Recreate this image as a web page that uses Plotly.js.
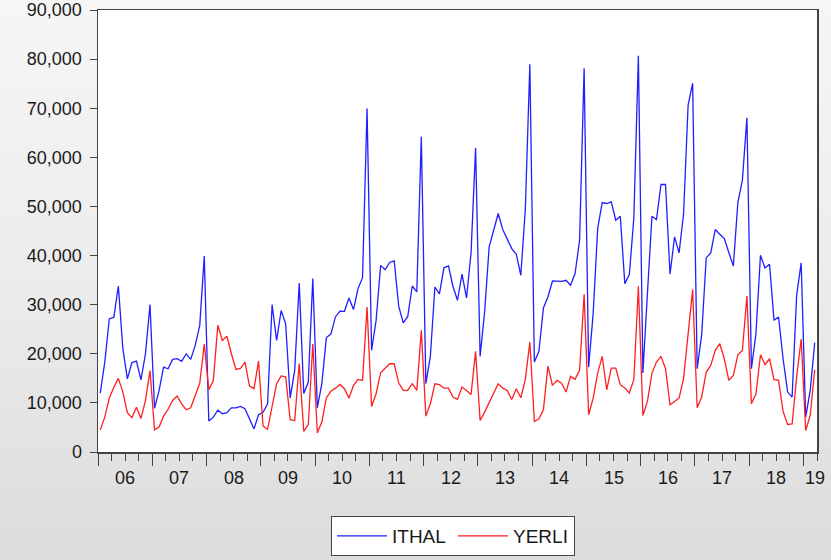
<!DOCTYPE html>
<html>
<head>
<meta charset="utf-8">
<script src="https://cdn.plot.ly/plotly-3.0.1.min.js"></script>
<style>
  html, body { margin: 0; padding: 0; }
  body { width: 831px; height: 560px; background: linear-gradient(to bottom, #f6f6f6 0%, #ececec 50%, #dcdcdc 100%); overflow: hidden; }
  #chart { width: 831px; height: 560px; }
</style>
</head>
<body>
<div id="chart"></div>
<script>
// Monthly observations, Jan 2006 .. Mar 2019
const startYear = 2006;
const endX = 2019.25; // end of March 2019

const ithal = [
  12000, 18300, 27150, 27400, 33800, 21000, 14900, 18200, 18500, 14700, 20000, 30000, // 2006
  8900, 12500, 17300, 16950, 18860, 19000, 18450, 20000, 18860, 21700, 25800, 39900,  // 2007
  6300, 7100, 8500, 7800, 8000, 9000, 9000, 9300, 8800, 6800, 4700, 7600,             // 2008
  8100, 9800, 30000, 22700, 28800, 26100, 11000, 16600, 34400, 11900, 14200, 35300,   // 2009
  9000, 13900, 23300, 24000, 27500, 28700, 28650, 31360, 29000, 33270, 35500, 69960,  // 2010
  20700, 26800, 38000, 37100, 38600, 38900, 29700, 26300, 27600, 33800, 32600, 64200, // 2011
  13900, 19500, 33600, 32200, 37500, 37900, 33700, 30900, 36200, 31360, 40600, 61950, // 2012
  19470, 28510, 41760, 45160, 48560, 45300, 43330, 41420, 40270, 35990, 49440, 78930, // 2013
  18320, 20490, 29320, 31570, 34830, 34830, 34760, 34970, 33950, 36330, 43120, 78120, // 2014
  17290, 28170, 45500, 50800, 50600, 50940, 47200, 48010, 34290, 36120, 47680, 80700, // 2015
  16070, 32240, 48010, 47330, 54470, 54470, 36190, 43800, 40540, 48560, 70640, 75060, // 2016
  16950, 23890, 39520, 40540, 45300, 44350, 43460, 40610, 37890, 50800, 55350, 68060, // 2017
  16950, 24090, 40070, 37480, 38230, 26810, 27490, 18990, 12200, 11180, 31900, 38500, // 2018
  7100, 12540, 22250                                                                  // 2019
];

const yerli = [
  4500, 7100, 11000, 13200, 15000, 12200, 8000, 7000, 9100, 6800, 10500, 16600,       // 2006
  4500, 5100, 7300, 8700, 10500, 11400, 9800, 8600, 9000, 11500, 14000, 22000,        // 2007
  12700, 14500, 25800, 22700, 23600, 20000, 16800, 17000, 18300, 13400, 12900, 18500, // 2008
  5300, 4600, 9100, 13900, 15500, 15300, 6600, 6400, 18000, 4200, 5600, 22000,        // 2009
  3900, 6100, 11000, 12400, 13000, 13760, 12880, 10970, 13560, 14780, 14580, 29530,   // 2010
  9280, 11860, 16140, 17090, 17970, 17970, 14030, 12540, 12540, 13900, 12540, 24770,  // 2011
  7300, 9820, 13900, 13700, 13000, 13000, 11170, 10700, 13220, 12540, 11720, 20500,   // 2012
  6420, 8120, 9960, 11860, 13900, 13000, 12540, 10700, 12880, 11040, 14780, 22400,    // 2013
  6220, 6760, 8600, 17500, 13560, 14580, 14030, 12200, 15400, 14780, 16620, 32110,    // 2014
  7580, 10970, 16070, 19470, 12670, 17090, 17090, 13700, 13020, 12000, 14780, 33740,  // 2015
  7440, 10300, 16070, 18310, 19470, 16950, 9620, 10300, 10970, 15050, 24090, 33060,   // 2016
  9000, 11180, 16280, 17630, 20690, 22050, 18990, 14580, 15600, 19810, 20690, 31770,  // 2017
  9820, 11860, 19810, 17770, 18990, 14710, 14580, 8260, 5610, 5740, 15260, 23000,     // 2018
  4380, 7440, 16750                                                                   // 2019
];

const labelYears = [2006, 2007, 2008, 2009, 2010, 2011, 2012, 2013, 2014, 2015, 2016, 2017, 2018, 2019];
const yearLabels = ['06', '07', '08', '09', '10', '11', '12', '13', '14', '15', '16', '17', '18', '19'];

// x position: middle of each month, in fractional years
const xs = ithal.map((_, i) => startYear + (i + 0.5) / 12);

const lineFont = { family: '"Liberation Sans", Arial, sans-serif', size: 18, color: '#1a1a1a' };

const traces = [
  { x: xs, y: ithal, type: 'scatter', mode: 'lines', name: 'ITHAL',
    line: { color: '#1f1fff', width: 1.3 }, hoverinfo: 'skip' },
  { x: xs, y: yerli, type: 'scatter', mode: 'lines', name: 'YERLI',
    line: { color: '#ff1f1f', width: 1.3 }, hoverinfo: 'skip' }
];

const annotations = labelYears.map((yr, k) => ({
  x: Math.min(yr + 0.5, endX - 0.04),
  y: 0, xref: 'x', yref: 'paper',
  text: yearLabels[k], showarrow: false,
  xanchor: 'center', yanchor: 'middle', yshift: -26,
  font: lineFont
}));

const layout = {
  width: 831, height: 560,
  margin: { l: 98, r: 14, t: 10, b: 108, autoexpand: false },
  paper_bgcolor: 'rgba(0,0,0,0)',
  plot_bgcolor: '#ffffff',
  showlegend: true,
  legend: {
    orientation: 'h', xref: 'container', yref: 'container',
    x: 331 / 831, xanchor: 'left', y: 1 - 516 / 560, yanchor: 'top',
    bgcolor: '#ffffff', bordercolor: '#444444', borderwidth: 1,
    font: { family: '"Liberation Sans", Arial, sans-serif', size: 19, color: '#1a1a1a' },
    itemwidth: 50, entrywidth: 56, tracegroupgap: 0
  },
  xaxis: {
    range: [startYear, endX], type: 'linear',
    showgrid: false, zeroline: false,
    showline: true, mirror: true, linecolor: '#444444', linewidth: 1.5,
    tickmode: 'array', tickvals: labelYears, showticklabels: false,
    ticks: 'outside', ticklen: 12, tickcolor: '#444444', tickwidth: 1,
    minor: { dtick: 0.25, tick0: startYear, ticks: 'outside', ticklen: 7, tickcolor: '#444444', tickwidth: 1 },
    fixedrange: true
  },
  yaxis: {
    range: [0, 90000], dtick: 10000, tick0: 0, tickformat: ',d',
    showgrid: false, zeroline: false,
    showline: true, mirror: true, linecolor: '#444444', linewidth: 1.5,
    ticks: 'outside', ticklen: 7, tickcolor: '#444444', tickwidth: 1,
    ticklabelstandoff: 4,
    tickfont: lineFont,
    fixedrange: true
  },
  annotations: annotations
};

Plotly.newPlot('chart', traces, layout, { displayModeBar: false, staticPlot: true });
</script>
</body>
</html>
